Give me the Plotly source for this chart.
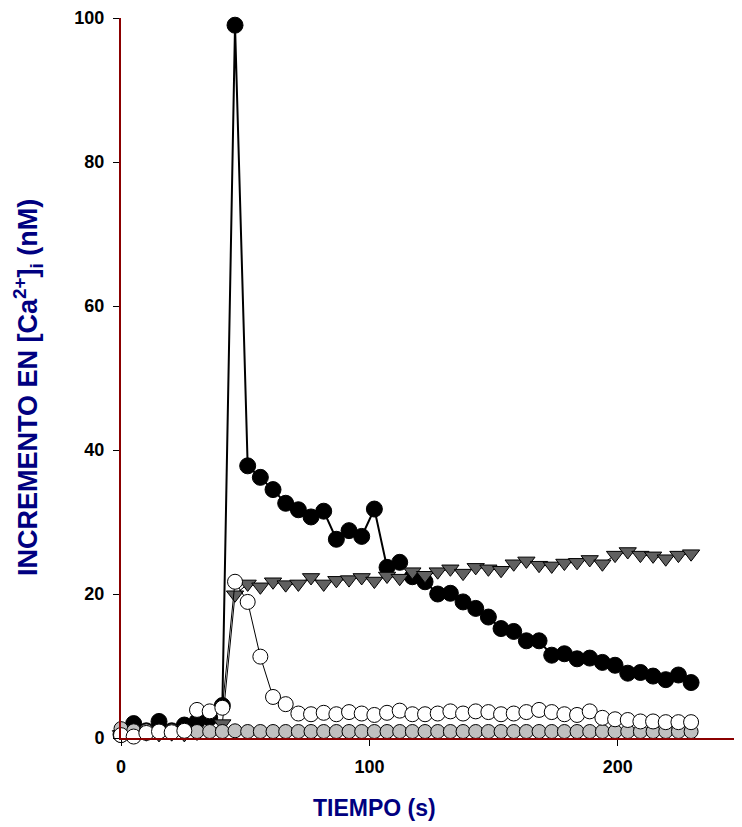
import plotly.graph_objects as go

# time points (s)
tiempo = [round(5.1 * k, 1) for k in range(46)]

serie_negra = [0.5, 2.0, 1.0, 2.3, 1.0, 1.8, 2.3, 2.8, 4.5, 99.0,
               37.8, 36.2, 34.5, 32.6, 31.7, 30.7, 31.5, 27.6, 28.8, 28.0,
               31.8, 23.7, 24.4, 22.4, 21.7, 20.0, 20.1, 18.9, 18.0, 16.8,
               15.2, 14.8, 13.5, 13.5, 11.5, 11.7, 11.0, 11.1, 10.5, 10.1,
               9.0, 9.1, 8.6, 8.1, 8.75, 7.7]

serie_triangulo = [0.5, 0.5, 0.6, 0.5, 0.6, 0.5, 0.7, 0.8, 2.0, 19.9,
                   21.4, 21.0, 21.7, 21.3, 21.4, 22.3, 21.4, 21.9, 22.0, 22.3,
                   21.8, 22.5, 22.2, 23.1, 22.6, 23.1, 23.5, 22.9, 23.7, 23.5,
                   23.3, 24.2, 24.6, 24.0, 23.9, 24.3, 24.4, 24.8, 24.2, 25.4,
                   25.9, 25.4, 25.3, 24.9, 25.4, 25.6]

serie_blanca = [0.4, 0.2, 0.7, 0.9, 0.8, 1.0, 3.9, 3.7, 4.2, 21.7,
                18.9, 11.3, 5.7, 4.7, 3.4, 3.3, 3.5, 3.3, 3.6, 3.4,
                3.2, 3.5, 3.8, 3.3, 3.3, 3.4, 3.7, 3.4, 3.7, 3.6,
                3.3, 3.4, 3.6, 3.9, 3.6, 3.3, 3.2, 3.7, 2.8, 2.6,
                2.5, 2.3, 2.3, 2.2, 2.2, 2.2]

serie_gris = [1.3, 1.0, 1.0, 1.0, 1.0, 1.0, 0.9, 0.9, 0.9, 1.0,
              0.9, 0.9, 0.9, 0.9, 0.9, 0.9, 0.9, 0.9, 0.9, 0.9,
              0.9, 0.9, 0.9, 0.9, 0.9, 0.9, 0.9, 0.9, 0.9, 0.9,
              0.9, 0.9, 0.9, 0.9, 0.9, 0.9, 0.9, 0.9, 0.9, 0.9,
              0.9, 0.9, 0.9, 0.9, 0.9, 0.9]

x_ticks = [0, 100, 200]
y_ticks = [0, 20, 40, 60, 80, 100]

fig = go.Figure()

fig.add_trace(go.Scatter(
    x=tiempo, y=serie_negra, mode="lines+markers", cliponaxis=False,
    line=dict(color="black", width=2),
    marker=dict(symbol="circle", size=16, color="black",
                line=dict(color="black", width=1)),
    showlegend=False))

fig.add_trace(go.Scatter(
    x=tiempo, y=serie_triangulo, mode="lines+markers", cliponaxis=False,
    line=dict(color="black", width=1),
    marker=dict(symbol="triangle-down", size=15, color="#606060",
                line=dict(color="black", width=1)),
    showlegend=False))

fig.add_trace(go.Scatter(
    x=tiempo, y=serie_gris, mode="lines+markers", cliponaxis=False,
    line=dict(color="black", width=1.5),
    marker=dict(symbol="circle", size=14, color="#c0c0c0",
                line=dict(color="black", width=1)),
    showlegend=False))

fig.add_trace(go.Scatter(
    x=tiempo, y=serie_blanca, mode="lines+markers", cliponaxis=False,
    line=dict(color="black", width=1),
    marker=dict(symbol="circle", size=15, color="white",
                line=dict(color="black", width=1)),
    showlegend=False))

axis_font = dict(family="Liberation Sans, Arial", size=18, color="black", weight="bold")

# page body has an 8px margin, so the figure is 8px smaller on each side
fig.update_layout(
    width=734, height=819,
    margin=dict(l=113, r=0, t=10, b=89),
    paper_bgcolor="white", plot_bgcolor="white",
    xaxis=dict(range=[0, 250], tickvals=x_ticks, ticks="outside", ticklen=6,
               tickcolor="black", tickwidth=1, showgrid=False, zeroline=False,
               showline=True, linecolor="#8b0000", linewidth=2,
               tickfont=axis_font, ticklabelstandoff=5),
    yaxis=dict(range=[0, 100], tickvals=y_ticks, ticks="outside", ticklen=6,
               tickcolor="black", tickwidth=1, showgrid=False, zeroline=False,
               showline=True, linecolor="#8b0000", linewidth=2,
               tickfont=axis_font, ticklabelstandoff=5),
    annotations=[
        dict(text="TIEMPO (s)", xref="paper", yref="paper",
             x=(374 - 121) / 621, y=-70 / 720, xanchor="center", yanchor="middle",
             showarrow=False,
             font=dict(family="Liberation Sans, Arial", size=23, color="#000080", weight="bold")),
        dict(text="INCREMENTO EN [Ca<sup>2+</sup>]<sub>i</sub> (nM)", xref="paper", yref="paper",
             x=(28 - 121) / 621, y=(738 - 388) / 720, xanchor="center", yanchor="middle",
             textangle=-90, showarrow=False,
             font=dict(family="Liberation Sans, Arial", size=27, color="#000080", weight="bold")),
    ],
)

fig.write_html("out.html")
